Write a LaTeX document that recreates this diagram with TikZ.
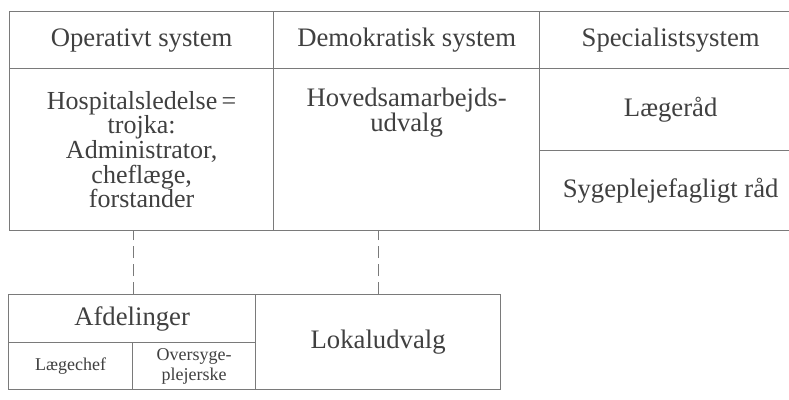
\documentclass[tikz,border=0pt]{standalone}
\usepackage{fontspec}
\setmainfont{Liberation Serif}
\definecolor{linec}{HTML}{7A7A7A}
\definecolor{textc}{HTML}{404040}
\begin{document}
\begin{tikzpicture}[x=1pt,y=-1pt,
  cell/.style={draw=linec, line width=1.3pt, anchor=north west, inner sep=0pt,
    text=textc, align=center, font=\fontsize{26.7}{24}\selectfont},
  small/.style={font=\fontsize{18}{20}\selectfont},
  conn/.style={draw=linec, line width=1.2pt, dash pattern=on 12pt off 6pt}]
\useasboundingbox[fill=white] (0,0) rectangle (789,399);
% top table
\node[cell, minimum width=264pt, minimum height=57pt] (op) at (9,11) {Operativt system};
\node[cell, minimum width=266pt, minimum height=57pt] (dem) at (273,11) {Demokratisk system};
\node[cell, minimum width=262pt, minimum height=57pt] (spec) at (539,11) {Specialistsystem};
\node[cell, font=\fontsize{26}{24.6}\selectfont, minimum width=264pt, minimum height=162pt] (hosp) at (9,68)
  {Hospitalsledelse\,=\\trojka:\\Administrator,\\cheflæge,\\forstander};
\node[cell, minimum width=266pt, minimum height=162pt] (hov) at (273,68) {};
\node[text=textc, align=center, font=\fontsize{26.7}{24}\selectfont, anchor=north, inner sep=0pt]
  (hovt) at ([yshift=-20pt]hov.north) {Hovedsamarbejds-\\udvalg};
\node[cell, minimum width=262pt, minimum height=82pt] (laeg) at (539,68) {Lægeråd};
\node[cell, minimum width=262pt, minimum height=80pt] (syg) at (539,150) {Sygeplejefagligt råd};
% bottom table
\node[cell, minimum width=247pt, minimum height=48pt] (afd) at (8,294) {Afdelinger};
\node[cell, small, minimum width=124pt, minimum height=47pt] (lch) at (8,342) {Lægechef};
\node[cell, small, minimum width=123pt, minimum height=47pt] (ovs) at (132,342) {Oversyge-\\plejerske};
\node[cell, minimum width=245pt, minimum height=95pt] (lok) at (255,294) {Lokaludvalg};
% dashed connectors
\draw[conn] (afd.north -| lch.east) -- (lch.east |- hosp.south);
\draw[conn] (lok.north) -- (lok.north |- hov.south);
\end{tikzpicture}
\end{document}
